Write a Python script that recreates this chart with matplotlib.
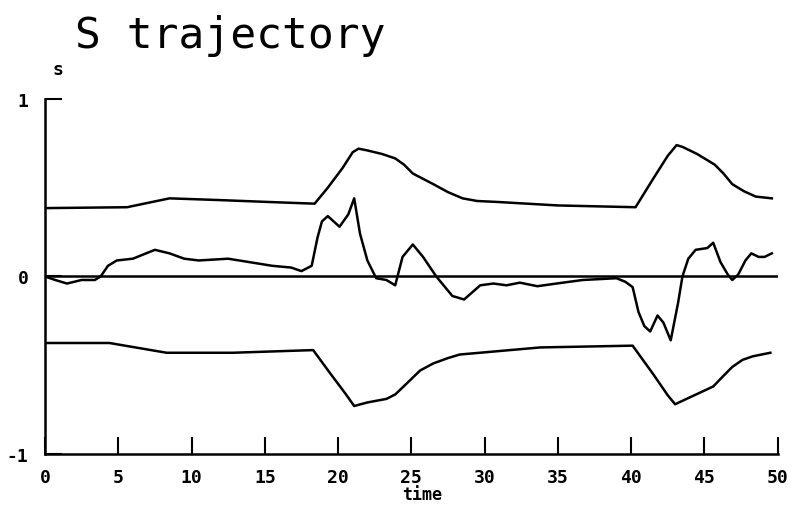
import matplotlib
matplotlib.use("Agg")
import matplotlib.pyplot as plt

# upper envelope
upper_t = [0, 5.6, 8.5, 12, 15.1, 18.4, 19.3, 20.3, 21.0, 21.4, 22.0, 23.0, 23.9, 24.5, 25.1,
           25.8, 26.5, 27.5, 28.5, 29.5, 30.8, 35, 40.3,
           41.5, 42.5, 43.1, 43.5, 44.5, 45.7, 46.3, 46.9, 47.7, 48.5, 49.6]
upper_s = [0.385, 0.39, 0.44, 0.43, 0.42, 0.41, 0.50, 0.61, 0.70, 0.72, 0.71, 0.69, 0.665, 0.63, 0.58,
           0.55, 0.52, 0.475, 0.44, 0.425, 0.42, 0.40, 0.39,
           0.55, 0.68, 0.74, 0.73, 0.69, 0.63, 0.58, 0.52, 0.48, 0.45, 0.44]

# lower envelope
lower_t = [0, 4.4, 8.3, 12.8, 18.3, 19.5, 20.5, 21.1, 22.0, 23.3, 23.9, 24.6, 25.6, 26.5, 27.5,
           28.3, 33.8, 40.1, 41.5, 42.5, 43.0, 44.3, 45.6, 46.3, 46.9, 47.6, 48.3, 49.5]
lower_s = [-0.375, -0.375, -0.43, -0.43, -0.415, -0.55, -0.66, -0.73, -0.71, -0.69, -0.665, -0.61,
           -0.53, -0.49, -0.46, -0.44, -0.40, -0.39, -0.55, -0.67, -0.72, -0.67, -0.62, -0.56,
           -0.51, -0.47, -0.45, -0.43]

# s trajectory
traj_t = [0, 0.7, 1.5, 2.5, 3.4, 3.8, 4.3, 4.9, 6.0, 7.5, 8.5, 9.5, 10.5, 12.5, 14.0, 15.5,
          16.8, 17.5, 18.2, 18.6, 18.9, 19.3, 20.1, 20.7, 21.1, 21.5, 22.0, 22.6, 23.3, 23.9,
          24.4, 25.1, 25.8, 26.7, 27.8, 28.6, 29.7, 30.6, 31.5, 32.4, 33.6, 34.9, 36.7, 39.0,
          39.6, 40.1, 40.5, 40.9, 41.3, 41.8, 42.2, 42.7, 43.2, 43.5, 43.9, 44.4, 45.2, 45.6,
          46.1, 46.6, 46.9, 47.3, 47.8, 48.2, 48.7, 49.1, 49.6]
traj_s = [0.0, -0.02, -0.04, -0.02, -0.02, 0.0, 0.06, 0.09, 0.10, 0.15, 0.13, 0.10, 0.09, 0.10, 0.08, 0.06,
          0.05, 0.03, 0.06, 0.22, 0.31, 0.34, 0.28, 0.35, 0.44, 0.24, 0.09, -0.01, -0.02, -0.05,
          0.11, 0.18, 0.11, 0.0, -0.11, -0.13, -0.05, -0.04, -0.05, -0.035, -0.055, -0.04, -0.02, -0.01,
          -0.03, -0.06, -0.20, -0.28, -0.31, -0.22, -0.26, -0.36, -0.15, 0.0, 0.10, 0.15, 0.16, 0.19,
          0.08, 0.01, -0.02, 0.01, 0.09, 0.13, 0.11, 0.11, 0.13]

mono = 'DejaVu Sans Mono'

fig = plt.figure(figsize=(7.96, 5.10), dpi=100)
ax = fig.add_axes([0.0565, 0.108, 0.9205, 0.696])

lw = 1.8
ax.plot(upper_t, upper_s, color='black', lw=lw)
ax.plot(lower_t, lower_s, color='black', lw=lw)
ax.plot(traj_t, traj_s, color='black', lw=lw)
ax.plot([0, 50.3], [0, 0], color='black', lw=1.8)

ax.set_xlim(0, 50)
ax.set_ylim(-1, 1)
for side in ['top', 'right']:
    ax.spines[side].set_visible(False)
for side in ['left', 'bottom']:
    ax.spines[side].set_linewidth(1.8)

ax.set_xticks(range(0, 51, 5))
ax.set_yticks([-1, 0, 1])
ax.set_yticklabels(['-1', '0', '1'])
ax.tick_params(axis='x', direction='in', length=12, width=1.5, pad=10)
ax.tick_params(axis='y', direction='in', length=12, width=1.5, pad=12)
for lab in ax.get_xticklabels() + ax.get_yticklabels():
    lab.set_fontfamily(mono)
    lab.set_fontweight('bold')
    lab.set_fontsize(13)

fig.text(0.094, 0.905, 'S trajectory', fontsize=31, family=mono, va='baseline')
fig.text(0.073, 0.862, 's', fontsize=13, family=mono, weight='bold', ha='center', va='center')
fig.text(0.53, 0.03, 'time', fontsize=12, family=mono, weight='bold', ha='center', va='center')

fig.savefig('out.png', dpi=100)
